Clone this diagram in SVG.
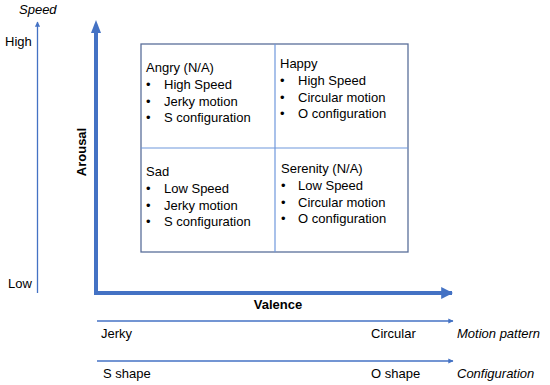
<svg xmlns="http://www.w3.org/2000/svg" width="550" height="385" viewBox="0 0 550 385">
<defs>
<style>
text{font-family:"Liberation Sans",Arial,sans-serif;font-size:13px;fill:#000}
.it{font-style:italic}
.b{font-weight:bold}
.thin{stroke:#4472C4;stroke-width:1.3;fill:none}
.thick{stroke:#4472C4;stroke-width:4;fill:none}
.box{fill:#fff;stroke:#5a6f9a;stroke-width:1.3}
.mid{stroke:#6f98dc;stroke-width:1.2}
</style>
<marker id="ah" viewBox="0 0 10 10" refX="9" refY="5" markerWidth="5" markerHeight="4" orient="auto" markerUnits="strokeWidth"><path d="M0,0L10,5L0,10z" fill="#4472C4"/></marker>
<marker id="ahb" viewBox="0 0 10 10" refX="9" refY="5" markerWidth="3" markerHeight="3.2" orient="auto" markerUnits="strokeWidth"><path d="M0,0L10,5L0,10z" fill="#4472C4"/></marker>
<marker id="ahs" viewBox="0 0 10 10" refX="1" refY="5" markerWidth="3" markerHeight="3.2" orient="auto-start-reverse" markerUnits="strokeWidth"><path d="M0,0L10,5L0,10z" fill="#4472C4"/></marker>
</defs>
<g id="connectors">
<line class="thin" x1="37.5" y1="293" x2="37.5" y2="22" marker-end="url(#ah)"/>
<polyline class="thick" points="96,32 96,293 452,293" marker-end="url(#ahb)"/>
<path d="M91,33 L96,20 L101,33 Z" fill="#4472C4"/>
<line class="thin" x1="97" y1="321" x2="453" y2="321" marker-end="url(#ah)"/>
<line class="thin" x1="97" y1="361" x2="453" y2="361" marker-end="url(#ah)"/>
</g>
<g id="grid">
<rect class="box" x="141" y="44" width="267" height="208"/>
<line class="mid" x1="275" y1="44" x2="275" y2="252"/>
<line class="mid" x1="141" y1="148" x2="408" y2="148"/>
</g>
<g id="angry">
<text x="146" y="72">Angry (N/A)</text>
<text x="146" y="89">•</text><text x="164" y="89">High Speed</text>
<text x="146" y="105.5">•</text><text x="164" y="105.5">Jerky motion</text>
<text x="146" y="122">•</text><text x="164" y="122">S configuration</text>
</g>
<g id="happy">
<text x="280" y="68">Happy</text>
<text x="280" y="85">•</text><text x="298" y="85">High Speed</text>
<text x="280" y="101.5">•</text><text x="298" y="101.5">Circular motion</text>
<text x="280" y="118">•</text><text x="298" y="118">O configuration</text>
</g>
<g id="sad">
<text x="146" y="176">Sad</text>
<text x="146" y="193">•</text><text x="164" y="193">Low Speed</text>
<text x="146" y="209.5">•</text><text x="164" y="209.5">Jerky motion</text>
<text x="146" y="226">•</text><text x="164" y="226">S configuration</text>
</g>
<g id="serenity">
<text x="281" y="173">Serenity (N/A)</text>
<text x="281" y="190">•</text><text x="298" y="190">Low Speed</text>
<text x="281" y="206.5">•</text><text x="298" y="206.5">Circular motion</text>
<text x="281" y="223">•</text><text x="298" y="223">O configuration</text>
</g>
<g id="labels">
<text class="it" x="19" y="14">Speed</text>
<text x="5" y="46">High</text>
<text x="8" y="288">Low</text>
<text class="b" transform="translate(86,152) rotate(-90)" text-anchor="middle">Arousal</text>
<text class="b" x="278" y="309" text-anchor="middle">Valence</text>
<text x="101" y="338">Jerky</text>
<text x="371" y="338">Circular</text>
<text class="it" x="457" y="338">Motion pattern</text>
<text x="103" y="378">S shape</text>
<text x="371" y="378">O shape</text>
<text class="it" x="457" y="378">Configuration</text>
</g>
</svg>
